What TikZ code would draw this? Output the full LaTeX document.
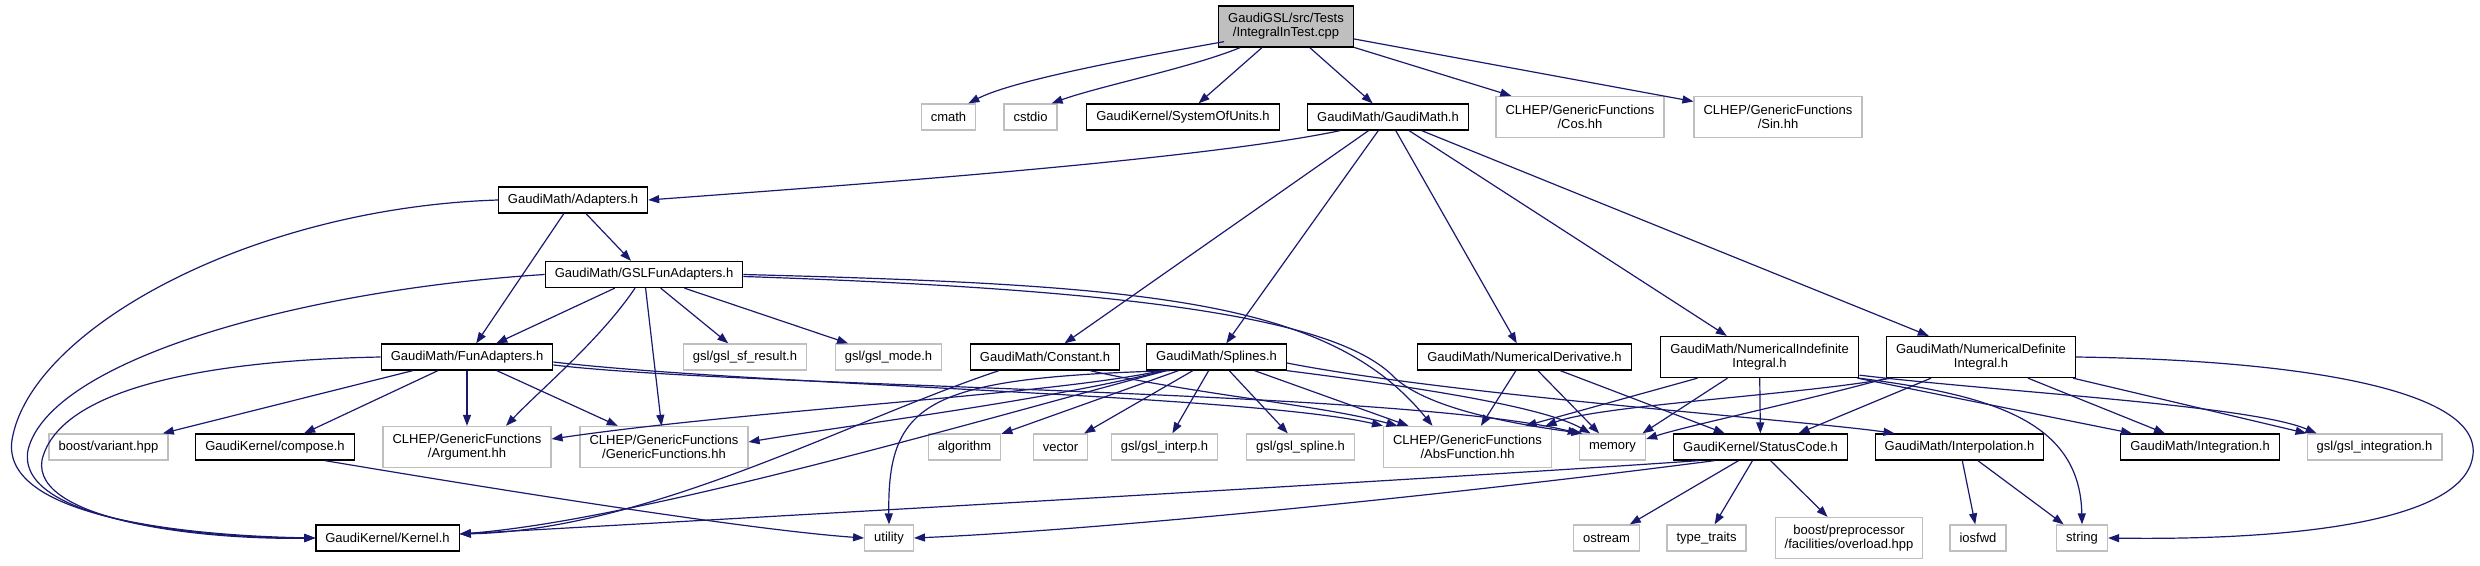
\documentclass[tikz,border=0pt]{standalone}
\usepackage{fontspec}
\setmainfont{Liberation Sans}
\usetikzlibrary{arrows.meta}
\definecolor{edgeblue}{HTML}{191970}
\definecolor{extgrey}{HTML}{BFBFBF}

\begin{document}
\begin{tikzpicture}[x=1pt,y=-1pt,
		hdr/.style={draw=black,line width=1.3pt,fill=white,inner xsep=9.5pt,inner ysep=0pt,minimum height=26pt,align=center,font=\fontsize{13}{14}\selectfont},
		sys/.style={hdr,draw=extgrey},
		two/.style={minimum height=41pt},
		edge/.style={draw=edgeblue,line width=1.2pt,-{Triangle[length=11pt,width=8pt]}}]
		\useasboundingbox (0,0) rectangle (2480,565);
		\node[hdr,two,fill=extgrey] (root) at (1286,26.5) {GaudiGSL/src/Tests\\/IntegralInTest.cpp};
		\node[sys] (cmath) at (948.5,117) {cmath};
		\node[sys] (cstdio) at (1030.5,117) {cstdio};
		\node[hdr] (sysunits) at (1183,117) {GaudiKernel/SystemOfUnits.h};
		\node[hdr] (gaudimath) at (1388,117) {GaudiMath/GaudiMath.h};
		\node[sys,two] (cos) at (1580,117) {CLHEP/GenericFunctions\\/Cos.hh};
		\node[sys,two] (sin) at (1778,117) {CLHEP/GenericFunctions\\/Sin.hh};
		\node[hdr] (adapters) at (573,200) {GaudiMath/Adapters.h};
		\node[hdr] (gslfun) at (644,274.5) {GaudiMath/GSLFunAdapters.h};
		\node[hdr] (funadapters) at (467,357) {GaudiMath/FunAdapters.h};
		\node[sys] (sfresult) at (745,357) {gsl/gsl\_sf\_result.h};
		\node[sys] (gslmode) at (888.5,357) {gsl/gsl\_mode.h};
		\node[hdr] (constant) at (1045,357) {GaudiMath/Constant.h};
		\node[hdr] (splines) at (1216.5,357) {GaudiMath/Splines.h};
		\node[hdr] (numderiv) at (1524.5,357) {GaudiMath/NumericalDerivative.h};
		\node[hdr,two] (numindef) at (1759.5,357) {GaudiMath/NumericalIndefinite\\Integral.h};
		\node[hdr,two] (numdef) at (1981,357) {GaudiMath/NumericalDefinite\\Integral.h};
		\node[sys] (variant) at (108.5,447) {boost/variant.hpp};
		\node[hdr] (compose) at (275,447) {GaudiKernel/compose.h};
		\node[sys,two] (argument) at (467,447) {CLHEP/GenericFunctions\\/Argument.hh};
		\node[sys,two] (genfun) at (664,447) {CLHEP/GenericFunctions\\/GenericFunctions.hh};
		\node[sys] (algorithm) at (964.5,447) {algorithm};
		\node[sys] (vector) at (1060.5,447) {vector};
		\node[sys] (interp) at (1164.5,447) {gsl/gsl\_interp.h};
		\node[sys] (spline) at (1300.5,447) {gsl/gsl\_spline.h};
		\node[sys,two] (absfun) at (1467.5,447) {CLHEP/GenericFunctions\\/AbsFunction.hh};
		\node[sys] (memory) at (1612.5,447) {memory};
		\node[hdr] (statuscode) at (1760.5,447) {GaudiKernel/StatusCode.h};
		\node[hdr] (interpolation) at (1959.5,447) {GaudiMath/Interpolation.h};
		\node[hdr] (integration) at (2200,447) {GaudiMath/Integration.h};
		\node[sys] (gslinteg) at (2374.5,447) {gsl/gsl\_integration.h};
		\node[hdr] (kernel) at (387.5,538) {GaudiKernel/Kernel.h};
		\node[sys] (utility) at (889,538) {utility};
		\node[sys] (ostream) at (1606.5,538) {ostream};
		\node[sys] (typetraits) at (1706.5,538) {type\_traits};
		\node[sys,two] (boostpp) at (1849,538) {boost/preprocessor\\/facilities/overload.hpp};
		\node[sys] (iosfwd) at (1978,538) {iosfwd};
		\node[sys] (string) at (2082,538) {string};
		\foreach \a/\b in {root/sysunits,root/gaudimath,root/cos,root/sin,gaudimath/constant,gaudimath/splines,gaudimath/numderiv,gaudimath/numindef,gaudimath/numdef,adapters/funadapters,adapters/gslfun,gslfun/funadapters,gslfun/genfun,gslfun/sfresult,gslfun/gslmode,funadapters/variant,funadapters/compose,funadapters/argument,funadapters/genfun,splines/algorithm,splines/vector,splines/interp,splines/spline,splines/absfun,numderiv/absfun,numderiv/memory,numderiv/statuscode,numindef/statuscode,interpolation/iosfwd,interpolation/string}
			\draw[edge] (\a) -- (\b);
		\draw[edge] ([xshift=6pt,yshift=6pt]root.south west) .. controls (1110,62) and (1010,82) .. ([xshift=-8pt]cmath.north east);
		\draw[edge] ([xshift=22pt]root.south west) .. controls (1190,68) and (1100,86) .. ([xshift=-6pt]cstdio.north east);
		\draw[edge] ([xshift=-48pt]gaudimath.south) .. controls (1200,160) and (850,185) .. (adapters.east);
		\draw[edge] (adapters.west) .. controls (250,208) and (30,330) .. (12,440) .. controls (0,520) and (200,536) .. (kernel.west);
		\draw[edge] (gslfun.west) .. controls (300,290) and (50,360) .. (28,450) .. controls (15,520) and (200,538) .. (kernel.west);
		\draw[edge] (funadapters.west) .. controls (220,360) and (60,385) .. (42,460) .. controls (32,520) and (200,540) .. (kernel.west);
		\draw[edge] ([xshift=-9pt]gslfun.south) .. controls (600,340) and (540,390) .. ([xshift=39pt]argument.north);
		\draw[edge] (gslfun.east) .. controls (1150,285) and (1330,300) .. ([xshift=-35pt]absfun.north);
		\draw[edge] ([yshift=-2pt]gslfun.east) .. controls (1150,290) and (1340,320) .. (1395,378) .. controls (1430,410) and (1520,425) .. ([xshift=-30pt]memory.north);
		\draw[edge] ([yshift=-5pt]funadapters.east) .. controls (750,385) and (1250,395) .. (absfun.north west);
		\draw[edge] ([yshift=-8pt]funadapters.east) .. controls (750,388) and (1400,390) .. (memory.north west);
		\draw[edge] ([xshift=50pt]compose.south) .. controls (500,490) and (750,530) .. (utility.west);
		\draw[edge] ([xshift=-46pt]constant.south) .. controls (850,420) and (650,530) .. ([yshift=4pt]kernel.east);
		\draw[edge] ([xshift=45pt]constant.south) .. controls (1200,395) and (1320,405) .. ([xshift=-70pt]absfun.north);
		\draw[edge] ([xshift=-55pt]splines.south) .. controls (1050,395) and (750,410) .. ([yshift=8pt]argument.east);
		\draw[edge] ([xshift=-52pt]splines.south) .. controls (1050,400) and (850,425) .. ([yshift=5pt]genfun.east);
		\draw[edge] ([xshift=-50pt]splines.south) .. controls (980,420) and (640,520) .. ([yshift=4pt]kernel.east);
		\draw[edge] ([xshift=-47pt]splines.south) .. controls (930,378) and (887,400) .. (utility.north);
		\draw[edge] (splines.south east) .. controls (1400,385) and (1540,405) .. ([xshift=-22pt]memory.north);
		\draw[edge] ([yshift=-6pt]splines.east) .. controls (1450,395) and (1800,420) .. ([xshift=-65pt]interpolation.north);
		\draw[edge] ([xshift=-62pt]numindef.south) -- ([xshift=58pt]absfun.north);
		\draw[edge] ([xshift=-32pt]numindef.south) -- ([xshift=30pt]memory.north);
		\draw[edge] ([xshift=98pt]numindef.south) -- ([xshift=-68pt]integration.north);
		\draw[edge] ([xshift=100pt,yshift=3pt]numindef.south) .. controls (2000,392) and (2250,405) .. ([xshift=-58pt]gslinteg.north);
		\draw[edge] (numindef.south east) .. controls (1990,395) and (2080,420) .. (string.north);
		\draw[edge] ([xshift=-90pt]numdef.south) .. controls (1800,395) and (1600,405) .. ([xshift=78pt]absfun.north);
		\draw[edge] ([xshift=-94pt]numdef.south) .. controls (1800,402) and (1690,425) .. ([yshift=8pt]memory.east);
		\draw[edge] ([xshift=-50pt]numdef.south) -- ([xshift=38pt]statuscode.north);
		\draw[edge] ([xshift=47pt]numdef.south) -- ([xshift=-35pt]integration.north);
		\draw[edge] ([xshift=92pt]numdef.south) -- (gslinteg.north west);
		\draw[edge] (numdef.east) .. controls (2300,360) and (2490,390) .. (2472,460) .. controls (2455,530) and (2250,540) .. (string.east);
		\draw[edge] ([xshift=-62pt]statuscode.south) .. controls (1450,478) and (800,515) .. ([yshift=4pt]kernel.east);
		\draw[edge] ([xshift=-46pt]statuscode.south) .. controls (1450,495) and (1100,530) .. (utility.east);
		\draw[edge] ([xshift=-22pt]statuscode.south) -- (ostream);
		\draw[edge] ([xshift=-8pt]statuscode.south) -- (typetraits);
		\draw[edge] ([xshift=10pt]statuscode.south) -- (boostpp);
	\end{tikzpicture}
\end{document}
